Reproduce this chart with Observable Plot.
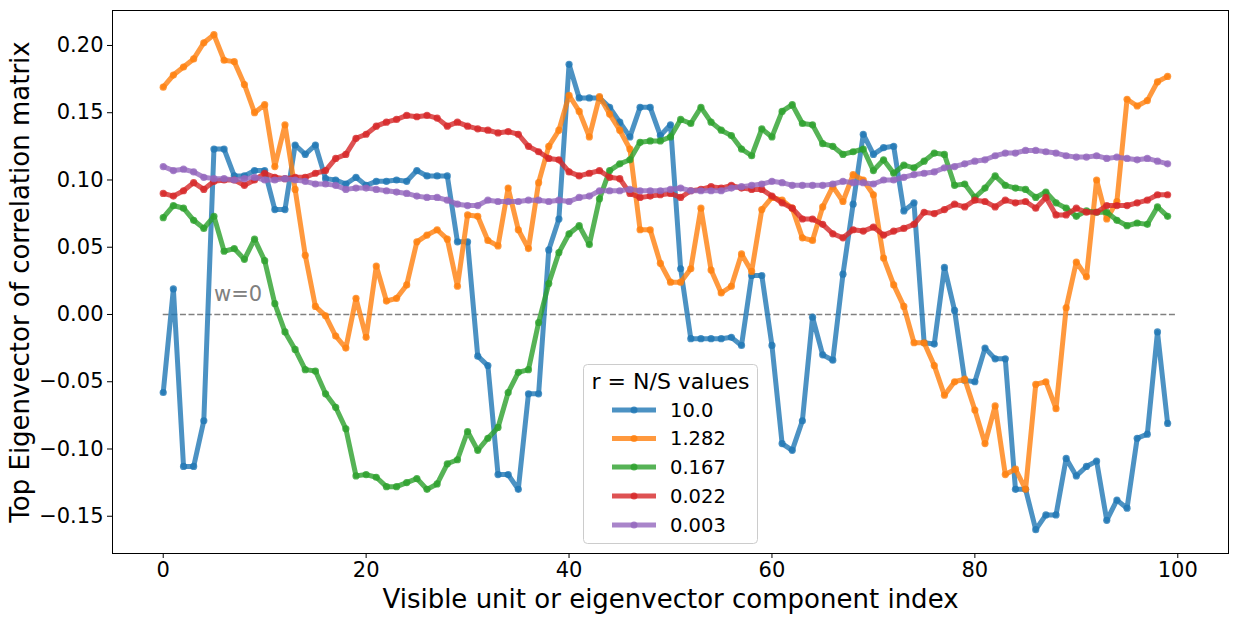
<!DOCTYPE html>
<html>
<head>
<meta charset="utf-8">
<script src="https://cdn.jsdelivr.net/npm/d3@7"></script>
<script src="https://cdn.jsdelivr.net/npm/@observablehq/plot@0.6"></script>
<style>
  body { margin: 0; background: #fff; }
  #wrap { position: relative; width: 1238px; height: 618px; font-family: "DejaVu Sans", sans-serif; }
  #legend { position: absolute; left: 583px; top: 364px; }
</style>
</head>
<body>
<div id="wrap"></div>
<script>
// ---- data ----
const seriesNames = ["10.0", "1.282", "0.167", "0.022", "0.003"];
const seriesColors = ["#1f77b4", "#ff7f0e", "#2ca02c", "#d62728", "#9467bd"];

const s10 = [
  -0.058, 0.019, -0.113, -0.113, -0.079, 0.123, 0.123, 0.103, 0.103, 0.107,
  0.107, 0.078, 0.078, 0.126, 0.119, 0.126, 0.101, 0.100, 0.097, 0.102,
  0.096, 0.099, 0.099, 0.100, 0.099, 0.107, 0.103, 0.103, 0.103, 0.054,
  0.054, -0.031, -0.038, -0.119, -0.119, -0.130, -0.059, -0.059, 0.048, 0.071,
  0.186, 0.161, 0.161, 0.161, 0.154, 0.143, 0.132, 0.154, 0.154, 0.133,
  0.141, 0.034, -0.018, -0.018, -0.018, -0.018, -0.017, -0.023, 0.029, 0.029,
  -0.023, -0.096, -0.101, -0.079, -0.002, -0.030, -0.034, 0.030, 0.082, 0.134,
  0.119, 0.124, 0.125, 0.077, 0.083, -0.021, -0.022, 0.035, 0.003, -0.049,
  -0.050, -0.025, -0.033, -0.033, -0.130, -0.130, -0.160, -0.149, -0.149, -0.107,
  -0.120, -0.113, -0.109, -0.153, -0.138, -0.144, -0.092, -0.089, -0.013, -0.081
];
const s1282 = [
  0.169, 0.178, 0.184, 0.190, 0.202, 0.208, 0.189, 0.188, 0.171, 0.150,
  0.156, 0.110, 0.141, 0.093, 0.044, 0.006, -0.001, -0.016, -0.025, 0.012,
  -0.017, 0.036, 0.010, 0.012, 0.022, 0.054, 0.059, 0.063, 0.056, 0.021,
  0.074, 0.073, 0.055, 0.051, 0.094, 0.063, 0.049, 0.098, 0.125, 0.137,
  0.163, 0.151, 0.132, 0.162, 0.149, 0.137, 0.123, 0.063, 0.063, 0.038,
  0.024, 0.024, 0.034, 0.079, 0.033, 0.016, 0.021, 0.045, 0.032, 0.078,
  0.087, 0.085, 0.079, 0.057, 0.055, 0.080, 0.095, 0.084, 0.104, 0.100,
  0.089, 0.042, 0.022, 0.006, -0.021, -0.021, -0.038, -0.060, -0.050, -0.048,
  -0.071, -0.096, -0.068, -0.119, -0.115, -0.130, -0.052, -0.050, -0.070, 0.005,
  0.039, 0.028, 0.100, 0.071, 0.084, 0.160, 0.155, 0.159, 0.173, 0.177
];
const s0167 = [
  0.072, 0.081, 0.079, 0.070, 0.064, 0.073, 0.047, 0.049, 0.041, 0.056,
  0.040, 0.008, -0.013, -0.026, -0.041, -0.042, -0.059, -0.069, -0.085, -0.120,
  -0.119, -0.121, -0.128, -0.128, -0.125, -0.122, -0.130, -0.126, -0.111, -0.108,
  -0.087, -0.101, -0.092, -0.084, -0.058, -0.043, -0.041, -0.006, 0.023, 0.046,
  0.060, 0.066, 0.052, 0.086, 0.107, 0.112, 0.115, 0.128, 0.129, 0.129,
  0.132, 0.145, 0.142, 0.154, 0.143, 0.137, 0.133, 0.123, 0.118, 0.138,
  0.132, 0.151, 0.156, 0.142, 0.141, 0.127, 0.125, 0.119, 0.121, 0.123,
  0.107, 0.115, 0.105, 0.111, 0.109, 0.114, 0.120, 0.119, 0.096, 0.097,
  0.087, 0.094, 0.103, 0.096, 0.094, 0.093, 0.087, 0.091, 0.083, 0.079,
  0.073, 0.077, 0.076, 0.076, 0.070, 0.066, 0.068, 0.067, 0.080, 0.073
];
const s0022 = [
  0.090, 0.088, 0.092, 0.098, 0.093, 0.099, 0.100, 0.100, 0.096, 0.100,
  0.105, 0.102, 0.101, 0.102, 0.102, 0.105, 0.107, 0.116, 0.119, 0.131,
  0.134, 0.140, 0.143, 0.145, 0.148, 0.147, 0.148, 0.146, 0.140, 0.143,
  0.140, 0.138, 0.137, 0.135, 0.136, 0.134, 0.125, 0.121, 0.116, 0.115,
  0.106, 0.103, 0.105, 0.107, 0.102, 0.101, 0.090, 0.087, 0.088, 0.089,
  0.090, 0.087, 0.092, 0.093, 0.095, 0.094, 0.096, 0.094, 0.093, 0.093,
  0.088, 0.083, 0.079, 0.071, 0.071, 0.067, 0.060, 0.057, 0.063, 0.062,
  0.065, 0.059, 0.062, 0.064, 0.067, 0.076, 0.075, 0.078, 0.082, 0.080,
  0.085, 0.084, 0.080, 0.085, 0.083, 0.084, 0.079, 0.087, 0.074, 0.074,
  0.079, 0.076, 0.076, 0.081, 0.081, 0.081, 0.083, 0.085, 0.089, 0.089
];
const s0003 = [
  0.110, 0.107, 0.108, 0.106, 0.102, 0.101, 0.101, 0.100, 0.101, 0.102,
  0.100, 0.100, 0.101, 0.100, 0.099, 0.097, 0.097, 0.096, 0.093, 0.094,
  0.094, 0.093, 0.092, 0.091, 0.090, 0.088, 0.087, 0.087, 0.085, 0.082,
  0.081, 0.081, 0.085, 0.084, 0.084, 0.084, 0.085, 0.085, 0.084, 0.085,
  0.084, 0.087, 0.088, 0.092, 0.092, 0.092, 0.093, 0.092, 0.092, 0.092,
  0.093, 0.094, 0.092, 0.092, 0.092, 0.092, 0.094, 0.095, 0.096, 0.097,
  0.099, 0.098, 0.096, 0.096, 0.096, 0.096, 0.097, 0.099, 0.098, 0.098,
  0.097, 0.100, 0.100, 0.102, 0.104, 0.105, 0.106, 0.109, 0.110, 0.112,
  0.114, 0.115, 0.118, 0.120, 0.120, 0.122, 0.122, 0.121, 0.120, 0.118,
  0.117, 0.117, 0.118, 0.116, 0.117, 0.116, 0.115, 0.116, 0.114, 0.112
];

const xTicks = [0, 20, 40, 60, 80, 100];
const yTicks = [-0.15, -0.10, -0.05, 0.00, 0.05, 0.10, 0.15, 0.20];
const xTitle = "Visible unit or eigenvector component index";
const yTitle = "Top Eigenvector of correlation matrix";
const legendTitle = "r = N/S values";
const zeroLabel = "w=0";

const seriesValues = [s10, s1282, s0167, s0022, s0003];
const rows = seriesNames.flatMap((name, k) =>
  seriesValues[k].map((v, i) => ({ index: i, value: v, series: name, k }))
);

const fmtY = d => d.toFixed(2).replace("-", "\u2212");

const seriesMarks = seriesNames.flatMap((name, k) => {
  const data = rows.filter(r => r.k === k);
  return [
    Plot.line(data, { x: "index", y: "value", stroke: seriesColors[k], strokeWidth: 5, strokeOpacity: 0.8, strokeLinejoin: "round" }),
    Plot.dot(data, { x: "index", y: "value", r: 3.6, fill: seriesColors[k], fillOpacity: 0.8, stroke: "none" })
  ];
});

const chart = Plot.plot({
  width: 1238,
  height: 618,
  marginLeft: 112,
  marginRight: 10,
  marginTop: 10,
  marginBottom: 65,
  style: { fontFamily: "DejaVu Sans, sans-serif", color: "#000", background: "#fff" },
  x: { domain: [-5, 105], label: null },
  y: { domain: [-0.1777, 0.2260], label: null },
  marks: [
    Plot.ruleY([0], { x1: 0, x2: 100, stroke: "#808080", strokeWidth: 1.5, strokeDasharray: "6,2.6" }),
    Plot.text([zeroLabel], { x: 5, y: 0.01, text: d => d, textAnchor: "start", lineAnchor: "bottom", fill: "#808080", fontSize: 21 }),
    ...seriesMarks,
    Plot.frame({ stroke: "#000", strokeWidth: 1 }),
    Plot.axisX(xTicks, { tickSize: 5, tickPadding: 4, fontSize: 21, label: null }),
    Plot.axisY(yTicks, { tickSize: 5, tickPadding: 4, fontSize: 21, tickFormat: fmtY, label: null }),
    Plot.text([xTitle], { frameAnchor: "bottom", dy: 46, textAnchor: "middle", lineAnchor: "middle", fontSize: 26, text: d => d }),
    Plot.text([yTitle], { frameAnchor: "left", dx: -92, rotate: -90, textAnchor: "middle", lineAnchor: "middle", fontSize: 26, text: d => d })
  ]
});

const wrap = document.getElementById("wrap");
wrap.appendChild(chart);

// ---- legend (overlay) ----
const lw = 175, lh = 180;
const leg = d3.select(wrap).append("svg").attr("id", "legend")
  .attr("width", lw).attr("height", lh)
  .style("font-family", "DejaVu Sans, sans-serif");
leg.append("rect").attr("x", 0.5).attr("y", 0.5).attr("width", lw - 1).attr("height", lh - 1)
  .attr("rx", 4).attr("fill", "#fff").attr("fill-opacity", 0.8).attr("stroke", "#cccccc");
leg.append("text").attr("x", lw / 2).attr("y", 17).attr("text-anchor", "middle")
  .attr("dominant-baseline", "central").attr("font-size", 22).text(legendTitle);
const entryY = [46, 74.5, 103, 132, 161];
seriesNames.forEach((name, k) => {
  const g = leg.append("g").attr("transform", `translate(0,${entryY[k]})`);
  g.append("line").attr("x1", 29).attr("x2", 73).attr("y1", 0).attr("y2", 0)
    .attr("stroke", seriesColors[k]).attr("stroke-width", 5).attr("stroke-opacity", 0.8);
  g.append("circle").attr("cx", 51).attr("cy", 0).attr("r", 3.5)
    .attr("fill", seriesColors[k]).attr("fill-opacity", 0.8);
  g.append("text").attr("x", 87).attr("y", 0).attr("dominant-baseline", "central")
    .attr("font-size", 19.5).text(name);
});
</script>
</body>
</html>
